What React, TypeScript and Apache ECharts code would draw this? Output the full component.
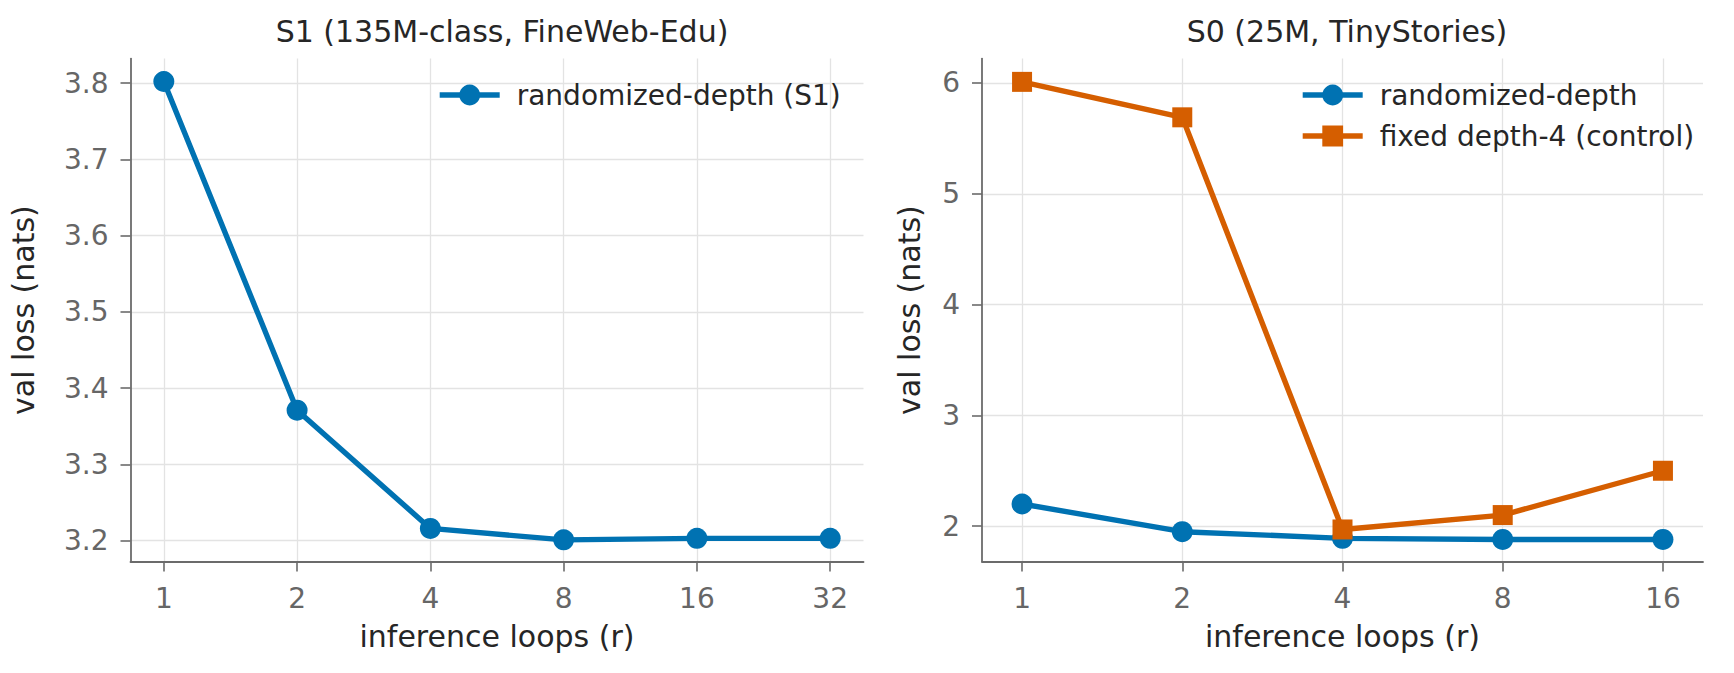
import React, { useEffect, useRef } from "react";
import * as echarts from "echarts";

// ---- data ----
const s1Title = "S1 (135M-class, FineWeb-Edu)";
const s0Title = "S0 (25M, TinyStories)";
const s1Loops = ["1", "2", "4", "8", "16", "32"];
const s1Randomized = [3.802, 3.371, 3.216, 3.201, 3.203, 3.203];
const s0Loops = ["1", "2", "4", "8", "16"];
const s0Randomized = [2.2, 1.95, 1.89, 1.88, 1.88];
const s0Fixed = [6.01, 5.69, 1.97, 2.1, 2.5];
const s1YTicks = [3.2, 3.3, 3.4, 3.5, 3.6, 3.7, 3.8];
const s0YTicks = [2, 3, 4, 5, 6];

const BLUE = "#0072B2";
const ORANGE = "#D55E00";
const FONT = "DejaVu Sans";
const SPINE = "#6b6b6b";
const GRIDC = "#e3e3e3";
const TICKTXT = "#666666";
const DARK = "#262626";
const TICK_FS = 28;
const LABEL_FS = 30;

export default function App() {
  const ref = useRef<HTMLDivElement>(null);
  useEffect(() => {
    if (!ref.current) return;
    const chart = echarts.init(ref.current, undefined, { renderer: "svg" });

    const xAxisFor = (gridIndex: number, labels: string[]) => {
      const idx = labels.map((_, i) => i);
      return {
        type: "value",
        gridIndex,
        min: -0.25,
        max: labels.length - 1 + 0.25,
        name: "inference loops (r)",
        nameLocation: "middle",
        nameGap: 60,
        nameTextStyle: { fontFamily: FONT, fontSize: LABEL_FS, color: DARK },
        axisLine: { show: true, onZero: false, lineStyle: { color: SPINE, width: 1.8 } },
        axisTick: { show: true, customValues: idx, length: 10, lineStyle: { color: SPINE, width: 1.6 } },
        axisLabel: {
          customValues: idx,
          margin: 23,
          fontFamily: FONT,
          fontSize: TICK_FS,
          color: TICKTXT,
          formatter: (v: number) => labels[Math.round(v)] ?? "",
        },
        splitLine: { show: true, lineStyle: { color: GRIDC, width: 1.3 } },
      };
    };

    const yAxisFor = (
      gridIndex: number,
      min: number,
      max: number,
      ticks: number[],
      dec: number,
      nameGap: number
    ) => ({
      type: "value",
      gridIndex,
      min,
      max,
      name: "val loss (nats)",
      nameLocation: "middle",
      nameGap,
      nameTextStyle: { fontFamily: FONT, fontSize: LABEL_FS, color: DARK },
      axisLine: { show: true, onZero: false, lineStyle: { color: SPINE, width: 1.8 } },
      axisTick: { show: true, customValues: ticks, length: 10, lineStyle: { color: SPINE, width: 1.6 } },
      axisLabel: {
        customValues: ticks,
        margin: 22,
        fontFamily: FONT,
        fontSize: TICK_FS,
        color: TICKTXT,
        formatter: (v: number) => v.toFixed(dec),
      },
      splitLine: { show: true, lineStyle: { color: GRIDC, width: 1.3 } },
    });

    const lineSeries = (
      name: string,
      values: number[],
      color: string,
      symbol: string,
      axisIndex: number
    ) => ({
      type: "line",
      name,
      xAxisIndex: axisIndex,
      yAxisIndex: axisIndex,
      data: values.map((v, i) => [i, v]),
      symbol,
      symbolSize: symbol === "circle" ? 21 : 20,
      lineStyle: { color, width: 5.4 },
      itemStyle: { color },
      z: 3,
    });

    const legendCommon = {
      orient: "vertical",
      itemWidth: 60,
      itemHeight: 26,
      itemGap: 11,
      lineStyle: { width: 5.4 },
      textStyle: {
        fontFamily: FONT,
        fontSize: 28,
        lineHeight: 30,
        color: DARK,
        padding: [0, 0, 0, 12],
      },
    };

    chart.setOption({
      animation: false,
      backgroundColor: "#ffffff",
      title: [
        {
          text: s1Title,
          left: 497,
          top: 11,
          textAlign: "center",
          textStyle: { fontFamily: FONT, fontSize: 30, fontWeight: "normal", color: DARK },
        },
        {
          text: s0Title,
          left: 1342,
          top: 11,
          textAlign: "center",
          textStyle: { fontFamily: FONT, fontSize: 30, fontWeight: "normal", color: DARK },
        },
      ],
      legend: [
        { ...legendCommon, data: ["randomized-depth (S1)"], left: 432, top: 75 },
        { ...legendCommon, data: ["randomized-depth", "fixed depth-4 (control)"], left: 1295, top: 75 },
      ],
      grid: [
        { left: 130.5, top: 58.6, width: 733, height: 503 },
        { left: 982, top: 58.6, width: 721, height: 503 },
      ],
      xAxis: [xAxisFor(0, s1Loops), xAxisFor(1, s0Loops)],
      yAxis: [
        yAxisFor(0, 3.1725, 3.832, s1YTicks, 1, 92),
        yAxisFor(1, 1.68, 6.22, s0YTicks, 0, 58),
      ],
      series: [
        lineSeries("randomized-depth (S1)", s1Randomized, BLUE, "circle", 0),
        lineSeries("randomized-depth", s0Randomized, BLUE, "circle", 1),
        lineSeries("fixed depth-4 (control)", s0Fixed, ORANGE, "rect", 1),
      ],
    });
    return () => chart.dispose();
  }, []);

  return (
    <div
      ref={ref}
      style={{ position: "fixed", left: 0, top: 0, width: 1734, height: 673, background: "#fff" }}
    />
  );
}
